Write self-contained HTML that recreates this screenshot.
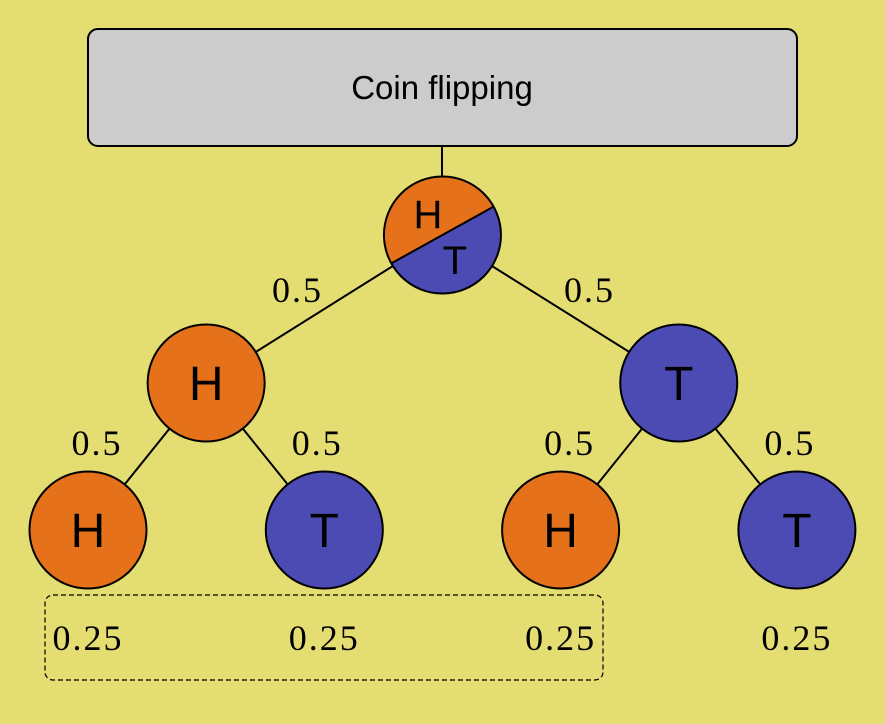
<!DOCTYPE html>
<html><head><meta charset="utf-8"><style>
html,body{margin:0;padding:0;background:#e3dd72;}
svg{display:block;}
.sans{font-family:"Liberation Sans","DejaVu Sans",sans-serif;}
.serif{font-family:"Liberation Serif","DejaVu Serif",serif;}
</style></head><body>
<svg id="chart" width="885" height="724" viewBox="0 0 885 724">
<rect x="0" y="0" width="885" height="724" fill="#e3dd72"/>
<line x1="442" y1="146" x2="442" y2="177" stroke="#000" stroke-width="2"/>
<rect x="88" y="29" width="709" height="117" rx="10" fill="#cccccc" stroke="#000" stroke-width="2"/>
<text x="442" y="99" class="sans" font-size="33" text-anchor="middle">Coin flipping</text>
<g id="edges"></g><g id="nodes"></g><g id="labels"></g>
<rect x="45" y="595" width="558" height="85" rx="8" fill="none" stroke="#000" stroke-width="1.2" stroke-dasharray="5,3"/>
</svg>
<script>
const level1Outcomes = ["H", "T"];
const level2Outcomes = ["H", "T", "H", "T"];
const edgeProbs1 = [0.5, 0.5];
const edgeProbs2 = [0.5, 0.5, 0.5, 0.5];
const leafProbs = [0.25, 0.25, 0.25, 0.25];

const NS = "http://www.w3.org/2000/svg";
const ORANGE = "#e5711a", BLUE = "#4b4bb3", R = 58.5;
const leafX = i => 88 + i * 236.3;
const lvlY = [235, 383, 530];
const x2 = i => leafX(i);
const x1 = i => (leafX(2*i) + leafX(2*i+1)) / 2;
const x0 = (x1(0) + x1(1)) / 2;
function el(tag, attrs, parent) { const e = document.createElementNS(NS, tag); for (const k in attrs) e.setAttribute(k, attrs[k]); parent.appendChild(e); return e; }
const gE = document.getElementById("edges"), gN = document.getElementById("nodes"), gL = document.getElementById("labels");

function edge(ax, ay, bx, by, p, lx, ly) {
  const l = el("line", {x1: ax, y1: ay, x2: bx, y2: by, stroke: "#000", "stroke-width": 2}, gE);
  
  
  const t = el("text", {x: lx, y: ly, "font-size": 36, "letter-spacing": 2, "text-anchor": "middle", class: "serif"}, gL);
  t.textContent = String(p);
  
  
}
function node(x, y, o, size) {
  const c = el("circle", {cx: x, cy: y, r: R, fill: o === "H" ? ORANGE : BLUE, stroke: "#000", "stroke-width": 2}, gN);
  
  
  const t = el("text", {x: x, y: y + 17, "font-size": size, "text-anchor": "middle", class: "sans"}, gN);
  t.textContent = o;
  
  
}
edgeProbs1.forEach((p, i) => {
  edge(x0, lvlY[0], x1(i), lvlY[1], p, x0 + (i ? 147 : -145), 302);
});
edgeProbs2.forEach((p, i) => {
  const par = Math.floor(i / 2);
  edge(x1(par), lvlY[1], x2(i), lvlY[2], p, x2(i) + (i % 2 ? -7 : 9), 455);
});
const a = 29 * Math.PI / 180, dx = R * Math.cos(a), dy = R * Math.sin(a);
const root = el("g", {}, gN);


el("path", {d: `M${x0-dx},${lvlY[0]+dy} L${x0+dx},${lvlY[0]-dy} A${R},${R} 0 0 0 ${x0-dx},${lvlY[0]+dy} Z`, fill: ORANGE}, root);
el("path", {d: `M${x0-dx},${lvlY[0]+dy} L${x0+dx},${lvlY[0]-dy} A${R},${R} 0 0 1 ${x0-dx},${lvlY[0]+dy} Z`, fill: BLUE}, root);
el("circle", {cx: x0, cy: lvlY[0], r: R, fill: "none", stroke: "#000", "stroke-width": 2}, root);
el("line", {x1: x0-dx, y1: lvlY[0]+dy, x2: x0+dx, y2: lvlY[0]-dy, stroke: "#000", "stroke-width": 2}, root);
const th = el("text", {x: 428, y: 228, "font-size": 40, "text-anchor": "middle", class: "sans"}, root); th.textContent = "H";
const tt = el("text", {x: 455, y: 274, "font-size": 40, "text-anchor": "middle", class: "sans"}, root); tt.textContent = "T";
level1Outcomes.forEach((o, i) => node(x1(i), lvlY[1], o, 48));
level2Outcomes.forEach((o, i) => node(x2(i), lvlY[2], o, 48));
leafProbs.forEach((p, i) => {
  const t = el("text", {x: x2(i), y: 650, "font-size": 36, "letter-spacing": 2, "text-anchor": "middle", class: "serif"}, gL);
  t.textContent = String(p);
  
  
});
</script>
</body></html>
